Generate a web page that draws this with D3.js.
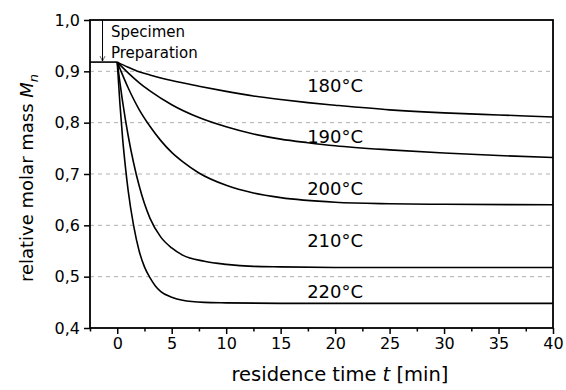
<!DOCTYPE html>
<html>
<head>
<meta charset="utf-8">
<script src="https://cdn.jsdelivr.net/npm/d3@7"></script>
<style>
  body { margin: 0; background: #fff; }
  text { font-family: "DejaVu Sans", sans-serif; fill: #000; }
</style>
</head>
<body>
<div id="chart"></div>
<script>
// Data: residence time t [min] and relative molar mass Mn per temperature
var temperatures = ["180°C", "190°C", "200°C", "210°C", "220°C"];

var times180 = [0, 1, 2, 3, 5, 7.5, 10, 12.5, 15, 17.5, 20, 25, 30, 35, 40];
var mass180  = [0.918, 0.908, 0.899, 0.893, 0.882, 0.871, 0.861, 0.852, 0.845, 0.839, 0.834, 0.825, 0.819, 0.815, 0.811];

var times190 = [0, 1, 2, 3, 5, 7.5, 10, 12.5, 15, 17.5, 20, 25, 30, 35, 40];
var mass190  = [0.918, 0.897, 0.878, 0.862, 0.835, 0.810, 0.792, 0.778, 0.768, 0.761, 0.755, 0.747, 0.741, 0.736, 0.732];

var times200 = [0, 1, 2, 3, 4, 5, 6, 7.5, 10, 12.5, 15, 20, 25, 30, 40];
var mass200  = [0.918, 0.868, 0.826, 0.793, 0.765, 0.742, 0.724, 0.702, 0.678, 0.663, 0.654, 0.645, 0.642, 0.641, 0.640];

var times210 = [0, 0.5, 1, 1.5, 2, 3, 4, 5, 6, 8, 10, 12.5, 15, 20, 40];
var mass210  = [0.918, 0.840, 0.775, 0.722, 0.678, 0.614, 0.577, 0.556, 0.542, 0.530, 0.524, 0.520, 0.519, 0.518, 0.518];

var times220 = [0, 0.25, 0.5, 0.75, 1, 1.5, 2, 2.5, 3, 3.5, 4, 5, 6, 8, 10, 15, 40];
var mass220  = [0.918, 0.836, 0.768, 0.714, 0.668, 0.600, 0.551, 0.519, 0.498, 0.482, 0.471, 0.460, 0.454, 0.450, 0.449, 0.448, 0.448];

// specimen preparation plateau before t = 0
var prepTimes = [-2.5, 0];
var prepMass  = [0.918, 0.918];

// where the temperature labels sit (data units)
var labelTime = 20;
var labelMass = [0.860, 0.760, 0.659, 0.557, 0.458];

// tick labels
var xTicks = [0, 5, 10, 15, 20, 25, 30, 35, 40];
var yTicks = [0.4, 0.5, 0.6, 0.7, 0.8, 0.9, 1.0];

var series = [
    { times: times180, mass: mass180 },
    { times: times190, mass: mass190 },
    { times: times200, mass: mass200 },
    { times: times210, mass: mass210 },
    { times: times220, mass: mass220 }
];

// Chart dimensions
var width = 566;
var height = 390;
var margin = { top: 20, right: 13, bottom: 62, left: 90 };
var plotW = width - margin.left - margin.right;
var plotH = height - margin.top - margin.bottom;

var svg = d3.select("#chart")
    .append("svg")
    .attr("width", width)
    .attr("height", height);

var g = svg.append("g")
    .attr("transform", "translate(" + margin.left + "," + margin.top + ")");

// Scales
var x = d3.scaleLinear().domain([-2.5, 40]).range([0, plotW]);
var y = d3.scaleLinear().domain([0.4, 1.0]).range([plotH, 0]);

// Dashed grid lines
g.selectAll(".grid")
    .data(yTicks.filter(function (d) { return d > 0.4 && d < 1.0; }))
    .enter().append("line")
    .attr("x1", 0)
    .attr("x2", plotW)
    .attr("y1", function (d) { return y(d); })
    .attr("y2", function (d) { return y(d); })
    .style("stroke", "#b0b0b0")
    .style("stroke-width", 1)
    .style("stroke-dasharray", "4,4");

// Axes
var fmt = function (d) { return d3.format(".1f")(d).replace(".", ","); };

var xAxis = g.append("g")
    .attr("transform", "translate(0," + plotH + ")")
    .call(d3.axisBottom(x).tickValues(xTicks).tickSize(6).tickPadding(4).tickFormat(d3.format("d")));

// minor ticks on x
var minorTicks = d3.range(-2.5, 40, 5);
g.append("g")
    .attr("transform", "translate(0," + plotH + ")")
    .call(d3.axisBottom(x).tickValues(minorTicks).tickSize(3.5).tickFormat(""))
    .call(function (a) { a.select(".domain").remove(); });

var yAxis = g.append("g")
    .call(d3.axisLeft(y).tickValues(yTicks).tickSize(6).tickPadding(4).tickFormat(fmt));

svg.selectAll(".tick text")
    .style("font-family", "DejaVu Sans, sans-serif")
    .style("font-size", "16px");
svg.selectAll(".tick line").style("stroke-width", 1.5);

// Frame around the plot
g.append("rect")
    .attr("width", plotW)
    .attr("height", plotH)
    .style("fill", "none")
    .style("stroke", "#000")
    .style("stroke-width", 1.8);
svg.selectAll(".domain").remove();

// Lines
var line = d3.line()
    .x(function (d) { return x(d[0]); })
    .y(function (d) { return y(d[1]); })
    .curve(d3.curveMonotoneX);

g.append("path")
    .attr("d", d3.line()(d3.zip(prepTimes.map(x), prepMass.map(y))))
    .style("fill", "none")
    .style("stroke", "#000")
    .style("stroke-width", 1.6);

g.selectAll(".curve")
    .data(series)
    .enter().append("path")
    .attr("d", function (s) { return line(d3.zip(s.times, s.mass)); })
    .style("fill", "none")
    .style("stroke", "#000")
    .style("stroke-width", 1.6);

// Temperature labels
g.selectAll(".temp")
    .data(temperatures)
    .enter().append("text")
    .attr("x", x(labelTime))
    .attr("y", function (d, i) { return y(labelMass[i]); })
    .style("text-anchor", "middle")
    .style("font-size", "18px")
    .text(function (d) { return d; });

// Specimen preparation arrow
var defs = svg.append("defs");
defs.append("marker")
    .attr("id", "arrow")
    .attr("viewBox", "0 0 10 10")
    .attr("refX", 10)
    .attr("refY", 5)
    .attr("markerWidth", 5)
    .attr("markerHeight", 7)
    .attr("orient", "auto")
    .attr("markerUnits", "userSpaceOnUse")
    .append("path")
    .attr("d", "M0,0 L10,5 L0,10")
    .style("fill", "none")
    .style("stroke", "#000")
    .style("stroke-width", 1.2);

g.append("line")
    .attr("x1", x(-1.35))
    .attr("x2", x(-1.35))
    .attr("y1", y(1.0))
    .attr("y2", y(0.918) - 1)
    .style("stroke", "#000")
    .style("stroke-width", 1)
    .attr("marker-end", "url(#arrow)");

g.append("text")
    .attr("x", x(-2.5) + 21)
    .attr("y", 17)
    .style("font-size", "15px")
    .text("Specimen");
g.append("text")
    .attr("x", x(-2.5) + 21)
    .attr("y", 38)
    .style("font-size", "15px")
    .text("Preparation");

// Axis titles
var xTitle = svg.append("text")
    .attr("x", 340)
    .attr("y", 381)
    .style("text-anchor", "middle")
    .style("font-size", "19.5px");
xTitle.append("tspan").text("residence time ");
xTitle.append("tspan").style("font-style", "italic").text("t");
xTitle.append("tspan").text(" [min]");

var yTitle = svg.append("text")
    .attr("transform", "translate(33,178) rotate(-90)")
    .style("text-anchor", "middle")
    .style("font-size", "18px");
yTitle.append("tspan").text("relative molar mass ");
yTitle.append("tspan").style("font-style", "italic").text("M");
yTitle.append("tspan").style("font-style", "italic").style("font-size", "13px").attr("dy", "5").text("n");
</script>
</body>
</html>
